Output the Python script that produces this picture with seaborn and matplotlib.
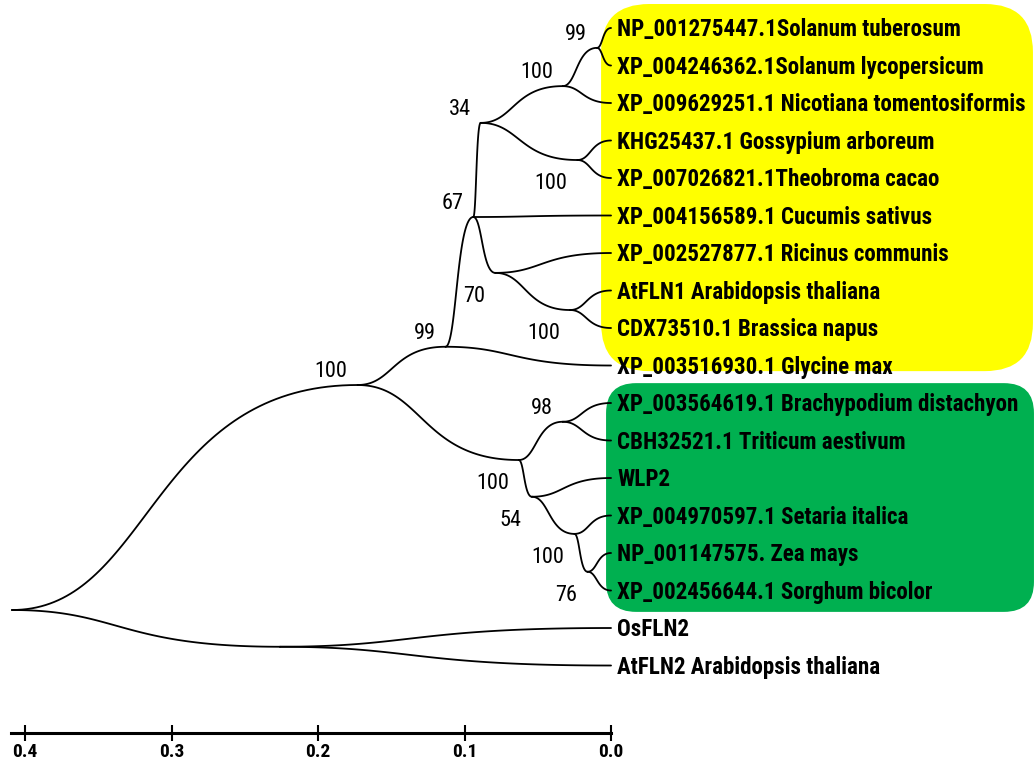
import numpy as np
import pandas as pd
import matplotlib.pyplot as plt
import matplotlib.patches as mpatches
from matplotlib.transforms import IdentityTransform
import seaborn as sns

# 잎(leaf) 이름, 위에서 아래 순서
leaf_names = [
    'NP_001275447.1Solanum tuberosum',
    'XP_004246362.1Solanum lycopersicum',
    'XP_009629251.1 Nicotiana tomentosiformis',
    'KHG25437.1 Gossypium arboreum',
    'XP_007026821.1Theobroma cacao',
    'XP_004156589.1 Cucumis sativus',
    'XP_002527877.1 Ricinus communis',
    'AtFLN1 Arabidopsis thaliana',
    'CDX73510.1 Brassica napus',
    'XP_003516930.1 Glycine max',
    'XP_003564619.1 Brachypodium distachyon',
    'CBH32521.1 Triticum aestivum',
    'WLP2',
    'XP_004970597.1 Setaria italica',
    'NP_001147575. Zea mays',
    'XP_002456644.1 Sorghum bicolor',
    'OsFLN2',
    'AtFLN2 Arabidopsis thaliana',
]
leaf_parent = ['n_sol', 'n_sol', 'n_solnic', 'n_gos', 'n_gos', 'n67', 'n70', 'n_ara', 'n_ara', 'n99',
               'n98', 'n98', 'n54', 'n_set', 'n_zea', 'n_zea', 'n_fln2', 'n_fln2']

# 내부 노드 : 이름, 부모, 깊이(끝에서부터 거리), 세로 위치(잎 행 단위), 부트스트랩 값
node_names = ['n_sol', 'n_solnic', 'n34', 'n_gos', 'n67', 'n70', 'n_ara', 'n99', 'n_dicot',
              'n98', 'n_mono', 'n54', 'n_set', 'n_zea', 'n_fln2', 'root']
node_parent = ['n_solnic', 'n34', 'n67', 'n34', 'n99', 'n67', 'n70', 'n_dicot', 'root',
               'n_mono', 'n_dicot', 'n_mono', 'n54', 'n_set', 'root', None]
node_depth = [0.0096, 0.033, 0.089, 0.023, 0.094, 0.079, 0.028, 0.113, 0.173,
              0.033, 0.063, 0.054, 0.025, 0.016, 0.226, 0.409]
node_row = [0.53, 1.55, 2.53, 3.52, 5.04, 6.53, 7.52, 8.50, 9.52,
            10.50, 11.52, 12.50, 13.49, 14.50, 16.50, 15.52]
node_support = [99, 100, 34, 100, 67, 70, 100, 99, 100, 98, 100, 54, 100, 76, None, None]
support_side = ['up', 'up', 'up', 'down', 'up', 'down', 'down', 'up', 'up',
                'up', 'down', 'down', 'down', 'down', None, None]

scale_ticks = [0.4, 0.3, 0.2, 0.1, 0.0]

pos = {n: (d, r) for n, d, r in zip(node_names, node_depth, node_row)}


def branch(x0, y0, x1, y1, n=80):
    # 부드러운 곡선 가지 (양 끝 수평)
    t = np.linspace(0, 1, n)
    cx = x0 + 0.4 * (x1 - x0)
    x = (1 - t) ** 3 * x0 + 3 * (1 - t) ** 2 * t * cx + 3 * (1 - t) * t ** 2 * cx + t ** 3 * x1
    y = (1 - t) ** 3 * y0 + 3 * (1 - t) ** 2 * t * y0 + 3 * (1 - t) * t ** 2 * y1 + t ** 3 * y1
    return x, y


rows = []
k = 0
for i, p in enumerate(leaf_parent):
    bx, by = branch(*pos[p], 0.0, i)
    rows += [(k, a, b) for a, b in zip(bx, by)]
    k += 1
for n, p in zip(node_names, node_parent):
    if p is None:
        continue
    bx, by = branch(*pos[p], *pos[n])
    rows += [(k, a, b) for a, b in zip(bx, by)]
    k += 1
df = pd.DataFrame(rows, columns=['branch', 'x', 'y'])

sns.set_style('white')
plt.rcParams['font.family'] = ['Roboto Condensed', 'DejaVu Sans']
plt.rcParams['font.stretch'] = 'condensed'
plt.rcParams['text.color'] = 'black'

fig = plt.figure(figsize=(10.35, 7.65), dpi=100)
ax = fig.add_axes([0, 0, 1, 1])

sns.lineplot(data=df, x='x', y='y', units='branch', estimator=None, sort=False,
             color='black', linewidth=1.3, ax=ax, zorder=3)

ax.set_xlim(0.4171, -0.2894)
ax.set_ylim(19.653, -0.7467)
ax.set_xlabel('')
ax.set_ylabel('')

# 클레이드 배경 상자 (픽셀 좌표로 그림)
def clade_box(d_left, d_right, r_top, r_bot, color, radius):
    (xa, ya) = ax.transData.transform((d_left, r_top))
    (xb, yb) = ax.transData.transform((d_right, r_bot))
    x0, x1 = min(xa, xb), max(xa, xb)
    y0, y1 = min(ya, yb), max(ya, yb)
    box = mpatches.FancyBboxPatch((x0, y0), x1 - x0, y1 - y0,
                                  boxstyle=f'round,pad=0,rounding_size={radius}',
                                  transform=IdentityTransform(), facecolor=color,
                                  edgecolor='none', zorder=1)
    ax.add_patch(box)

clade_box(0.0068, -0.288, -0.64, 9.15, '#FFFF00', 48)
clade_box(0.0034, -0.2887, 9.47, 15.57, '#00B050', 30)

# 잎 이름
for i, name in enumerate(leaf_names):
    ax.annotate(name, (0.0, i), xytext=(6, -8), textcoords='offset pixels',
                ha='left', va='baseline', fontsize=16.6, fontweight='bold',
                color='black', zorder=4)

# 부트스트랩 값
for n, s, side in zip(node_names, node_support, support_side):
    if s is None:
        continue
    dy = 8 if side == 'up' else -29
    ax.annotate(str(s), pos[n], xytext=(-10, dy), textcoords='offset pixels',
                ha='right', va='baseline', fontsize=16, color='black', zorder=4)

# 스케일 축
for sp in ['top', 'right', 'left']:
    ax.spines[sp].set_visible(False)
ax.spines['bottom'].set_position(('data', 18.8))
ax.spines['bottom'].set_bounds(0.0, 0.4096)
ax.spines['bottom'].set_linewidth(2.2)
ax.spines['bottom'].set_color('black')
ax.set_yticks([])
ax.set_xticks(scale_ticks)
ax.set_xticklabels([f'{v:.1f}' for v in scale_ticks])
ax.tick_params(axis='x', direction='inout', length=11, width=1.5, pad=1.8,
               labelsize=14, colors='black', bottom=True)
for lbl in ax.get_xticklabels():
    lbl.set_fontweight('bold')

fig.savefig('out.png', dpi=100)
